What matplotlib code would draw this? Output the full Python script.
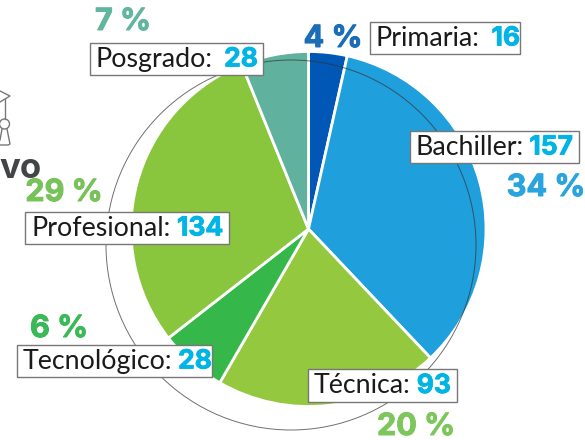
import matplotlib
matplotlib.use("Agg")
import matplotlib.pyplot as plt
import matplotlib.patheffects as pe
from matplotlib.patches import Circle, Rectangle

W, H = 585, 440

niveles = ["Primaria", "Bachiller", "Técnica", "Tecnológico", "Profesional", "Posgrado"]
valores = [16, 157, 93, 28, 134, 28]
porcentajes = ["4 %", "34 %", "20 %", "6 %", "29 %", "7 %"]
colores = ["#0057B5", "#1F9FDB", "#93C83F", "#35B749", "#8AC53E", "#61B19F"]
colores_pct = ["#1B6DB8", "#2AA4DE", "#7DC65B", "#3BB858", "#78C25A", "#62B6A0"]

# cajas de etiqueta: izq, arriba, der, abajo (pixeles)
cajas = [(370, 22, 520, 54), (410, 131, 579, 163), (308, 369, 457, 402),
         (17, 345, 212, 377), (25, 212, 229, 244), (90, 43, 263, 75)]
# borde derecho del numero
fin_num = [520, 573, 451, 212, 223, 258]
# centro de cada porcentaje
pos_pct = [(333, 39), (546, 188), (416, 427), (59, 329), (64, 193), (123, 22)]


def yy(y):
    return H - y


fig = plt.figure(figsize=(W / 100, H / 100), dpi=100)
ax = fig.add_axes([0, 0, 1, 1])

ax.pie(valores, colors=colores, startangle=90, counterclock=False, radius=177.5,
       center=(308.5, yy(229)), frame=False,
       wedgeprops={"edgecolor": "white", "linewidth": 2})
ax.set_xlim(0, W)
ax.set_ylim(0, H)
ax.set_aspect("equal")
ax.axis("off")

ax.add_patch(Circle((291, yy(245)), 185, fill=False, edgecolor="#333333", linewidth=0.7, alpha=0.7, zorder=3))

for nivel, valor, caja, fin in zip(niveles, valores, cajas, fin_num):
    x0, y0, x1, y1 = caja
    ax.add_patch(Rectangle((x0, yy(y1)), x1 - x0, y1 - y0, facecolor="white", edgecolor="#777777", linewidth=1, zorder=4))
    ymid = yy((y0 + y1) / 2)
    ax.text(x0 + 6, ymid, nivel + ":", family="Lato", fontsize=19.3, color="#1a1a1a", ha="left", va="center", zorder=5)
    t = ax.text(fin, ymid - 0.5, str(valor), family="Inter", fontweight="bold", fontsize=19, color="#00B4E6", ha="right", va="center", zorder=5)
    t.set_path_effects([pe.withStroke(linewidth=0.6, foreground="#00B4E6")])

for pct, color, pos in zip(porcentajes, colores_pct, pos_pct):
    t = ax.text(pos[0], yy(pos[1]), pct, family="Inter", fontweight="bold", fontsize=22, color=color, ha="center", va="center", zorder=5)
    t.set_path_effects([pe.withStroke(linewidth=0.7, foreground=color)])

# resto del titulo y del icono, cortados por el borde
ax.text(-1, yy(169), "vo", family="Inter", fontweight="bold", fontsize=25, color="#414546", ha="left", va="center")
gris = "#777777"
ax.plot([0, 10, 0], [yy(91), yy(96), yy(102)], color=gris, lw=1)
ax.plot([4.5, 4.5], [yy(99), yy(119)], color=gris, lw=1)
ax.add_patch(Circle((4.5, yy(124)), 5, fill=False, edgecolor=gris, linewidth=1))
ax.plot([7, 10, 8, 0], [yy(129), yy(144), yy(145), yy(145)], color=gris, lw=1)
ax.plot([2, 0], [yy(129), yy(140)], color=gris, lw=1)

fig.savefig("out.png", dpi=100)
